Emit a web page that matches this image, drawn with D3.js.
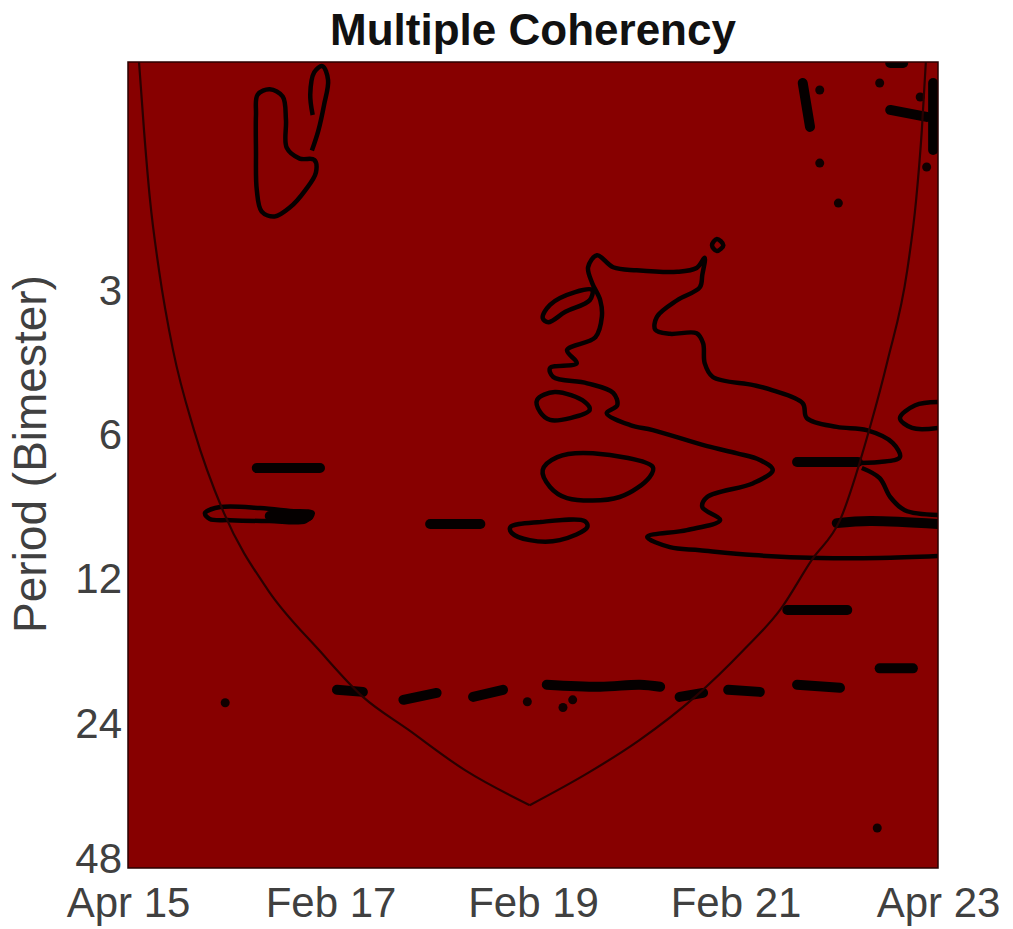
<!DOCTYPE html>
<html>
<head>
<meta charset="utf-8">
<script src="https://cdn.jsdelivr.net/npm/d3@7"></script>
<style>
  html, body { margin: 0; padding: 0; background: #fff; }
  svg { display: block; }
</style>
</head>
<body>
<div id="chart"></div>
<script>
// x is the sample position along the series (0..100), y is the period (bimesters)
const xTicks = [0, 25, 50, 75, 100];
const xTickLabels = ["Apr 15", "Feb 17", "Feb 19", "Feb 21", "Apr 23"];
const yTicks = [3, 6, 12, 24, 48];

// cone of influence, [time, period], left and right branches meet at the apex
const coiLeft = [
  [1.36, 1.00], [1.98, 1.39], [2.72, 1.94], [3.83, 2.72], [5.56, 3.99],
  [8.15, 5.86], [11.85, 8.73], [17.28, 12.63], [23.58, 16.85], [29.0, 21.1],
  [34.6, 24.7], [41.6, 30.0], [49.6, 35.5]
];
const coiRight = [
  [49.6, 35.5], [56.8, 30.4], [63.1, 26.0], [70.0, 21.1], [76.0, 16.85], [80.5, 13.9],
  [84.4, 10.94], [87.9, 9.03], [91.6, 5.78], [93.8, 4.18], [96.2, 2.72],
  [97.3, 1.94], [98.0, 1.39], [98.5, 1.00]
];

// closed significance contours
const loops = [
  [[16.0, 1.17], [17.5, 1.14], [19.1, 1.18], [19.5, 1.32], [19.6, 1.51], [21.2, 1.59], [23.0, 1.60],
   [23.2, 1.70], [21.9, 1.85], [20.0, 2.01], [18.1, 2.10], [16.5, 2.05], [15.9, 1.85], [15.8, 1.53], [15.8, 1.29]],
  [[72.1, 2.41], [72.7, 2.34], [73.5, 2.41], [72.7, 2.48]],
  [[51.2, 3.42], [52.1, 3.21], [55.2, 3.02], [57.3, 2.99], [57.0, 3.14], [54.0, 3.32], [51.9, 3.49]],
  [[50.5, 5.07], [52.7, 4.88], [56.4, 5.12], [57.0, 5.32], [54.6, 5.53], [52.1, 5.58], [50.9, 5.38]],
  [[51.2, 7.10], [53.0, 6.67], [57.4, 6.55], [64.8, 7.00], [64.4, 7.34], [60.7, 8.08], [54.2, 8.12], [52.1, 7.70]],
  [[47.2, 9.34], [50.9, 9.11], [56.4, 9.07], [56.7, 9.34], [53.3, 9.94], [49.6, 9.94], [47.4, 9.61]],
  [[9.5, 8.73], [11.4, 8.48], [16.3, 8.52], [20.0, 8.64], [22.8, 8.73], [21.9, 9.07], [17.5, 9.07], [12.6, 9.03], [10.1, 8.98]]
];

// open contours (cut by the plot edges)
const lines = [
  [[22.7, 1.53], [23.5, 1.39], [24.2, 1.23], [24.7, 1.09], [24.0, 1.02], [23.0, 1.05], [22.5, 1.17], [22.8, 1.29]],
  [[100, 10.73], [92.8, 10.83], [85.4, 10.83], [77.2, 10.68], [70.6, 10.43], [66.9, 10.28], [64.1, 9.79],
   [69.0, 9.47], [73.1, 9.03], [70.9, 8.48], [71.5, 8.08], [77.2, 7.56], [79.6, 7.10], [78.0, 6.76],
   [75.2, 6.55], [71.5, 6.33], [64.8, 5.86], [62.0, 5.72], [59.1, 5.40], [60.4, 5.20], [59.9, 4.90],
   [56.7, 4.68], [52.5, 4.54], [52.1, 4.35], [55.4, 4.25], [54.2, 3.99], [57.7, 3.75], [58.5, 3.40],
   [58.3, 3.14], [57.3, 2.89], [56.8, 2.68], [57.9, 2.53], [59.9, 2.68], [62.8, 2.72], [67.8, 2.74],
   [70.2, 2.69], [71.2, 2.56], [70.9, 2.78], [70.6, 2.95], [67.8, 3.14], [65.3, 3.40], [65.1, 3.62],
   [66.9, 3.69], [70.2, 3.68], [71.0, 3.86], [71.2, 4.25], [72.2, 4.54], [77.2, 4.72], [79.6, 4.84],
   [83.3, 5.15], [83.8, 5.53], [87.5, 5.77], [91.2, 5.86], [94.4, 6.23], [95.3, 6.67], [92.8, 6.83], [82.6, 6.83]],
  [[100, 5.12], [97.2, 5.20], [95.3, 5.53], [96.8, 5.80], [100, 5.80]],
  [[90.6, 7.03], [92.8, 7.38], [94.1, 8.08], [95.9, 8.61], [100, 8.81]]
];

// short filled streaks
const blobs = [
  [[15.9, 7.03], [23.7, 7.03]],
  [[17.5, 8.85], [22.3, 8.85]],
  [[37.3, 9.2], [43.5, 9.2]],
  [[82.6, 6.83], [90.1, 6.83]],
  [[87.5, 9.16], [91.6, 9.07], [100, 9.2]],
  [[25.8, 20.4], [29.0, 20.6]],
  [[34.0, 21.4], [38.1, 20.7]],
  [[42.6, 21.1], [46.3, 20.4]],
  [[51.7, 19.9], [58.3, 20.1], [63.2, 19.9], [65.7, 20.1]],
  [[68.1, 21.1], [71.0, 20.7]],
  [[74.1, 20.4], [78.0, 20.6]],
  [[82.6, 19.9], [87.9, 20.2]],
  [[92.8, 18.4], [96.9, 18.4]],
  [[81.4, 13.9], [88.8, 13.9]],
  [[83.3, 1.106], [84.2, 1.366]],
  [[94.1, 1.259], [98.6, 1.302]],
  [[94.1, 1.005], [95.7, 1.005]],
  [[99.4, 1.106], [99.4, 1.526]]
];

const dots = [
  [12.0, 21.7], [92.5, 39.6], [85.4, 1.144], [85.4, 1.625], [87.7, 1.969], [92.8, 1.106],
  [97.8, 1.183], [98.6, 1.656], [49.3, 21.6], [54.9, 21.4], [53.7, 22.2]
];

const width = 1013, height = 929;
const margin = { top: 62, right: 75, bottom: 61, left: 128 };

const svg = d3.select("#chart")
  .append("svg")
  .attr("width", width)
  .attr("height", height);

const x = d3.scaleLinear().domain([0, 100]).range([margin.left, width - margin.right]);
const y = d3.scaleLog().base(2).domain([1, 48]).range([margin.top, height - margin.bottom]);

svg.append("clipPath").attr("id", "plot-clip")
  .append("rect")
  .attr("x", x(0)).attr("y", y(1))
  .attr("width", x(100) - x(0)).attr("height", y(48) - y(1));

// background field (coherency ~1 everywhere)
svg.append("rect")
  .attr("x", x(0)).attr("y", y(1))
  .attr("width", x(100) - x(0)).attr("height", y(48) - y(1))
  .attr("fill", "#870000");

const plot = svg.append("g").attr("clip-path", "url(#plot-clip)");

const open = d3.line().x(d => x(d[0])).y(d => y(d[1])).curve(d3.curveCatmullRom);
const closed = d3.line().x(d => x(d[0])).y(d => y(d[1])).curve(d3.curveCatmullRomClosed);

plot.append("g")
  .selectAll("path")
  .data(loops)
  .enter().append("path")
  .attr("d", closed)
  .attr("fill", "none")
  .attr("stroke", "#050000")
  .attr("stroke-width", 4.5);

plot.append("g")
  .selectAll("path")
  .data(lines)
  .enter().append("path")
  .attr("d", open)
  .attr("fill", "none")
  .attr("stroke", "#050000")
  .attr("stroke-width", 4.5)
  .attr("stroke-linejoin", "round");

plot.append("g")
  .selectAll("path")
  .data(blobs)
  .enter().append("path")
  .attr("d", open)
  .attr("fill", "none")
  .attr("stroke", "#050000")
  .attr("stroke-width", 10)
  .attr("stroke-linecap", "round");

plot.append("g")
  .selectAll("circle")
  .data(dots)
  .enter().append("circle")
  .attr("cx", d => x(d[0]))
  .attr("cy", d => y(d[1]))
  .attr("r", 4.5)
  .attr("fill", "#100000");

// cone of influence
const coiLine = d3.line().x(d => x(d[0])).y(d => y(d[1])).curve(d3.curveMonotoneX);
plot.append("g")
  .selectAll("path")
  .data([coiLeft, coiRight])
  .enter().append("path")
  .attr("d", coiLine)
  .attr("fill", "none")
  .attr("stroke", "#2a0000")
  .attr("stroke-width", 2.2)
  .attr("stroke-linejoin", "miter");

// axes box
svg.append("rect")
  .attr("x", x(0)).attr("y", y(1))
  .attr("width", x(100) - x(0)).attr("height", y(48) - y(1))
  .attr("fill", "none")
  .attr("stroke", "#2a0000")
  .attr("stroke-width", 1.5);

const tickFont = "Liberation Sans, Arial, sans-serif";

const yAxis = svg.append("g")
  .attr("transform", `translate(${x(0)},0)`)
  .call(d3.axisLeft(y).tickValues(yTicks).tickFormat(d3.format("d")).tickSize(0).tickPadding(6));
yAxis.select(".domain").remove();
yAxis.selectAll("text")
  .attr("font-family", tickFont)
  .attr("font-size", 42)
  .attr("fill", "#404040")
  .attr("dy", d => d === 48 ? "0.1em" : "0.32em");

const xAxis = svg.append("g")
  .attr("transform", `translate(0,${y(48)})`)
  .call(d3.axisBottom(x).tickValues(xTicks).tickFormat((d, i) => xTickLabels[i]).tickSize(0).tickPadding(19));
xAxis.select(".domain").remove();
xAxis.selectAll("text")
  .attr("font-family", tickFont)
  .attr("font-size", 42)
  .attr("fill", "#404040");

svg.append("text")
  .attr("transform", "translate(46,454) rotate(-90)")
  .attr("text-anchor", "middle")
  .attr("font-family", tickFont)
  .attr("font-size", 46)
  .attr("fill", "#404040")
  .text("Period (Bimester)");

svg.append("text")
  .attr("x", 533)
  .attr("y", 45)
  .attr("text-anchor", "middle")
  .attr("font-family", tickFont)
  .attr("font-weight", "bold")
  .attr("font-size", 44)
  .attr("fill", "#111")
  .text("Multiple Coherency");
</script>
</body>
</html>
